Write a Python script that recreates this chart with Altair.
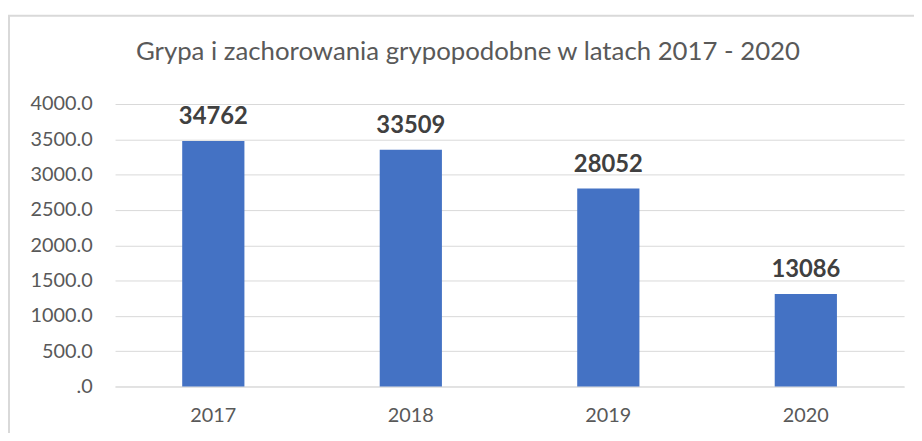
import altair as alt
import pandas as pd

years = ["2017", "2018", "2019", "2020"]
values = [3476.2, 3350.9, 2805.2, 1308.6]
labels = ["34762", "33509", "28052", "13086"]
y_ticks = [0, 500, 1000, 1500, 2000, 2500, 3000, 3500, 4000]
title_text = "Grypa i zachorowania grypopodobne w latach  2017 - 2020"

df = pd.DataFrame({"year": years, "value": values, "label": labels})

FONT = "Lato"
GREY = "#595959"

base = alt.Chart(df).encode(
    x=alt.X("year:N", sort=years, title=None,
            scale=alt.Scale(paddingInner=0.685, paddingOuter=0.34),
            axis=alt.Axis(labelAngle=0, labelFontSize=20, labelColor=GREY, labelFont=FONT,
                          ticks=False, domain=True, domainColor="#d9d9d9", labelPadding=19)),
    y=alt.Y("value:Q", title=None,
            scale=alt.Scale(domain=[0, 4000], nice=False),
            axis=alt.Axis(values=y_ticks,
                          labelExpr="datum.value == 0 ? '.0' : format(datum.value, '.1f')",
                          labelFontSize=20, labelColor=GREY, labelFont=FONT, labelOverlap=False,
                          ticks=False, domain=False, gridColor="#d9d9d9", labelPadding=23)),
)

bars = base.mark_bar(color="#4472C4")

text = base.mark_text(baseline="alphabetic", dy=-17, fontSize=24, fontWeight="bold",
                      color="#404040", font=FONT).encode(text="label:N")

title = alt.Chart(pd.DataFrame({"t": [title_text]})).mark_text(
    fontSize=26, font=FONT, color=GREY, baseline="alphabetic", align="center"
).encode(x=alt.value(356), y=alt.value(-44), text="t:N")

frame = alt.Chart(pd.DataFrame({"a": [0]})).mark_rect(
    fill=None, stroke="#d9d9d9", strokeWidth=2
).encode(x=alt.value(-107), x2=alt.value(900), y=alt.value(-89), y2=alt.value(400))

chart = alt.layer(frame, bars, text, title).properties(
    width=796, height=285,
    padding={"left": 108, "top": 95, "right": 10, "bottom": 45},
    autosize=alt.AutoSizeParams(type="none"),
).configure_view(stroke=None)

chart.save("out.html", embed_options={"renderer": "svg", "actions": False})
